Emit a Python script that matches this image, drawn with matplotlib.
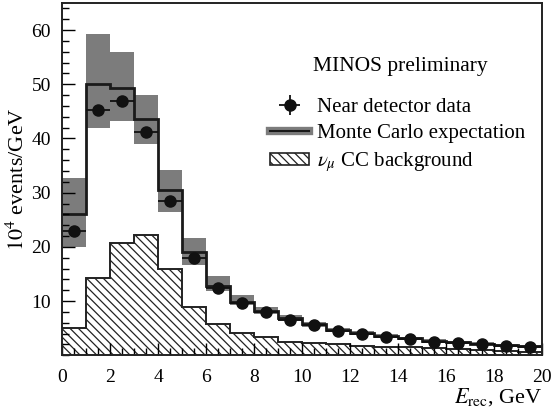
import numpy as np
import matplotlib
matplotlib.use("Agg")
import matplotlib.pyplot as plt
from matplotlib.lines import Line2D
from matplotlib.patches import Patch
from matplotlib.ticker import MultipleLocator

plt.rcParams['font.family'] = ['Liberation Serif', 'DejaVu Serif']
plt.rcParams['mathtext.fontset'] = 'stix'
plt.rcParams['hatch.linewidth'] = 0.9

# bin edges in reconstructed energy, GeV
edges = np.arange(0, 21, 1)
centers = edges[:-1] + 0.5

# near detector data, 10^4 events/GeV
data = [22.9, 45.3, 46.9, 41.2, 28.4, 17.9, 12.5, 9.7, 7.9, 6.5,
        5.5, 4.5, 3.9, 3.4, 3.0, 2.5, 2.3, 2.0, 1.8, 1.6]
data_err = [0.3] * 20

# Monte Carlo expectation and its systematic band
mc = [26.1, 50.1, 49.3, 43.6, 30.5, 19.1, 12.7, 9.9, 8.2, 6.8,
      5.7, 4.7, 4.1, 3.6, 3.1, 2.7, 2.4, 2.1, 1.9, 1.7]
mc_hi = [32.7, 59.2, 56.0, 48.0, 34.1, 21.6, 14.6, 11.1, 9.0, 7.4,
         6.2, 5.1, 4.5, 3.9, 3.4, 3.0, 2.7, 2.4, 2.1, 1.9]
mc_lo = [20.0, 42.0, 43.3, 39.0, 26.4, 16.6, 11.9, 9.3, 7.7, 6.3,
         5.3, 4.4, 3.8, 3.3, 2.9, 2.5, 2.2, 1.9, 1.7, 1.5]

# nu_mu CC background
bkg = [5.0, 14.3, 20.8, 22.2, 16.0, 9.0, 5.8, 4.1, 3.3, 2.5,
       2.2, 2.0, 1.8, 1.6, 1.5, 1.3, 1.1, 1.0, 0.8, 0.6]

fig = plt.figure(figsize=(5.55, 4.18), dpi=100)
ax = fig.add_axes([0.112, 0.150, 0.865, 0.843])

band_col = '#7c7c7c'

# systematic band
ax.stairs(mc_hi, edges, baseline=mc_lo, fill=True, color=band_col, lw=0)
# background histogram, hatched
ax.stairs(bkg, edges, baseline=0, fill=True, facecolor='white',
          edgecolor='#222222', hatch='\\\\\\\\', lw=0)
ax.stairs(bkg, edges, baseline=None, color='#222222', lw=1.4)
# MC expectation line
ax.stairs(mc, edges, baseline=None, color='#1a1a1a', lw=2.0)
# data points
eb = ax.errorbar(centers, data, xerr=0.5, yerr=data_err, fmt='o', color='#111111',
                 ms=8, elinewidth=1.3, capsize=0)

ax.set_xlim(0, 20)
ax.set_ylim(0, 65)
ax.xaxis.set_major_locator(MultipleLocator(2))
ax.xaxis.set_minor_locator(MultipleLocator(0.5))
ax.yaxis.set_major_locator(MultipleLocator(10))
ax.yaxis.set_minor_locator(MultipleLocator(2))
ax.set_yticks([10, 20, 30, 40, 50, 60])
ax.tick_params(which='both', direction='in', labelsize=14, width=1.0,
               top=False, right=False)
ax.tick_params(which='major', length=9)
ax.tick_params(axis='x', which='major', pad=10)
ax.tick_params(axis='y', which='major', pad=8)
ax.tick_params(which='minor', length=5)
for s in ax.spines.values():
    s.set_linewidth(1.4)
    s.set_color('#222222')

ax.set_ylabel(r'$10^4$ events/GeV', fontsize=16, labelpad=2)
ax.set_xlabel(r'$E_{\rm rec}$, GeV', fontsize=16, loc='right', labelpad=0)

ax.text(0.523, 0.819, 'MINOS preliminary', transform=ax.transAxes,
        fontsize=15.5, ha='left', va='center')

h_mc = (Line2D([], [], color=band_col, lw=6), Line2D([], [], color='#1a1a1a', lw=1.5))
h_bkg = Patch(facecolor='white', edgecolor='#222222', hatch='\\\\\\\\', lw=1.2)
ax.legend([eb, h_mc, h_bkg],
          ['Near detector data', 'Monte Carlo expectation', r'$\nu_\mu$ CC background'],
          loc='upper left', bbox_to_anchor=(0.415, 0.755), frameon=False,
          fontsize=15, handlelength=1.9, handleheight=0.5, handletextpad=0.35,
          labelspacing=0.35, borderaxespad=0)

fig.savefig('out.png', dpi=100)
